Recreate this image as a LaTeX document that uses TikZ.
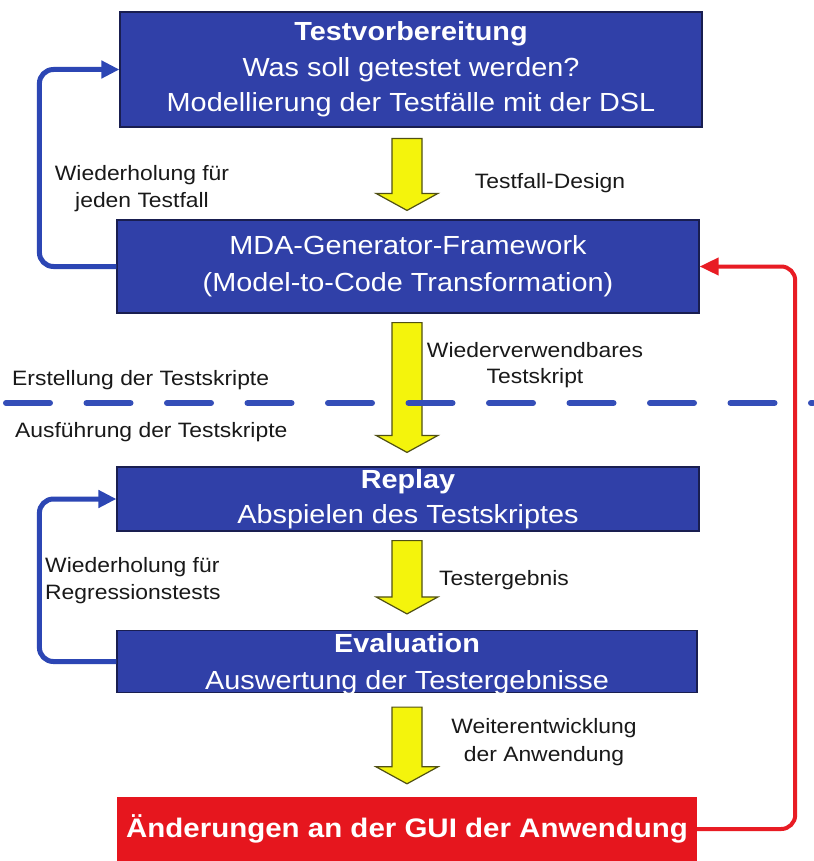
\documentclass[tikz,border=0pt]{standalone}
\usepackage{fontspec}
\setmainfont{Liberation Sans}[FakeStretch=1.1]
\usetikzlibrary{arrows.meta,calc}

\definecolor{boxblue}{RGB}{48,64,168}
\definecolor{boxedge}{RGB}{25,30,80}
\definecolor{loopblue}{RGB}{44,70,180}
\definecolor{dashblue}{RGB}{52,78,184}
\definecolor{guired}{RGB}{230,22,30}
\definecolor{linkred}{RGB}{232,28,36}
\definecolor{arrowyellow}{RGB}{244,244,12}
\definecolor{arrowedge}{RGB}{80,80,20}
\definecolor{labelgray}{RGB}{25,25,25}

% yellow block arrow from the bottom of one stage to the top of the next
% #1 upper node, #2 lower node, #3 gap below #1, #4 gap above #2
\newcommand\stagearrow[4]{%
  \draw[flow] let \p1=(#1.south), \p2=(#2.north) in
    (392pt,{\y1-#3pt}) -- (422pt,{\y1-#3pt}) -- (422pt,{\y2+#4pt+17pt})
    -- (438pt,{\y2+#4pt+17pt}) -- (407pt,{\y2+#4pt})
    -- (376pt,{\y2+#4pt+17pt}) -- (392pt,{\y2+#4pt+17pt}) -- cycle;}

\begin{document}
\begin{tikzpicture}[x=1pt,y=-1pt,
  stage/.style={draw=boxedge, line width=1.2pt, fill=boxblue, text=white,
    minimum width=582pt, inner sep=0pt, align=center,
    font=\fontsize{26.2}{36}\selectfont},
  stagetext/.style={text=white, inner sep=0pt, align=center,
    font=\fontsize{26.2}{37}\selectfont},
  changebox/.style={fill=guired, text=white, minimum width=580pt,
    minimum height=64pt, inner sep=0pt,
    font=\bfseries\fontsize{26.8}{32}\selectfont},
  note/.style={text=labelgray, inner sep=0pt,
    font=\fontsize{20.8}{27}\selectfont},
  repeatlink/.style={draw=loopblue, line width=5pt, rounded corners=14pt,
    -{Triangle[length=18pt,width=17pt]}},
  feedback/.style={draw=linkred, line width=4pt, rounded corners=14pt,
    -{Triangle[length=19pt,width=17pt]}},
  flow/.style={fill=arrowyellow, draw=arrowedge, line width=1.2pt, line join=miter},
  divider/.style={draw=dashblue, line width=6pt, line cap=round,
    dash pattern=on 44pt off 36.5pt}
]
\fill[white] (0,0) rectangle (813,861);
\useasboundingbox (0,0) rectangle (813,861);

% process stages
\node[stage, minimum height=115pt, font=\fontsize{26.2}{35.5}\selectfont] (prep) at (411,69.5)
  {\textbf{Testvorbereitung}\\Was soll getestet werden?\\Modellierung der Testfälle mit der DSL};
\node[stage, minimum height=93pt, font=\fontsize{26.2}{37}\selectfont] (gen) at (408,266.5)
  {MDA-Generator-Framework\\(Model-to-Code Transformation)};
\node[stage, minimum height=64pt, font=\fontsize{26.2}{35}\selectfont] (replay) at (408,499)
  {\textbf{Replay}\\Abspielen des Testskriptes};
\node[stage, minimum height=62pt, minimum width=580pt] (eval) at (407,661.5) {};
\node[stagetext] (evalText) at ($(eval.center)+(0,3)$)
  {\textbf{Evaluation}\\Auswertung der Testergebnisse};
\node[changebox] (gui) at (407,829) {Änderungen an der GUI der Anwendung};

% block arrows between the stages
\stagearrow{prep}{gen}{11}{9}
\stagearrow{gen}{replay}{9}{14}
\stagearrow{replay}{eval}{9}{16}
\stagearrow{eval}{gui}{14}{13}

% iteration loops
\draw[repeatlink] (gen.west) -- ++(-77,0) |- (prep.west);
\draw[repeatlink] (eval.west) -- ++(-77,0) |- (replay.west);
\draw[feedback] (gui.east) -- ++(98,0) |- (gen.east);

% phase boundary
\coordinate (divL) at (6,403);
\coordinate (divR) at (813,403);
\draw[divider] (divL) -- (divR);

% labels
\node[note, align=center] (lblLoopA) at (142,189) {Wiederholung für\\jeden Testfall};
\node[note] (lblDesign) at (550,183) {Testfall-Design};
\node[note, align=center, font=\fontsize{20.8}{26}\selectfont] (lblScript) at (535,365)
  {Wiederverwendbares\\Testskript};
\node[note, anchor=west] (lblCreate) at (12,380) {Erstellung der Testskripte};
\node[note, anchor=west] (lblRun) at (15,432) {Ausführung der Testskripte};
\node[note] (lblResult) at (504,580) {Testergebnis};
\node[note, align=left, anchor=west] (lblLoopB) at (45,581) {Wiederholung für\\Regressionstests};
\node[note, align=center, font=\fontsize{20.8}{28}\selectfont] (lblEvolve) at (544,742)
  {Weiterentwicklung\\der Anwendung};
\end{tikzpicture}
\end{document}
